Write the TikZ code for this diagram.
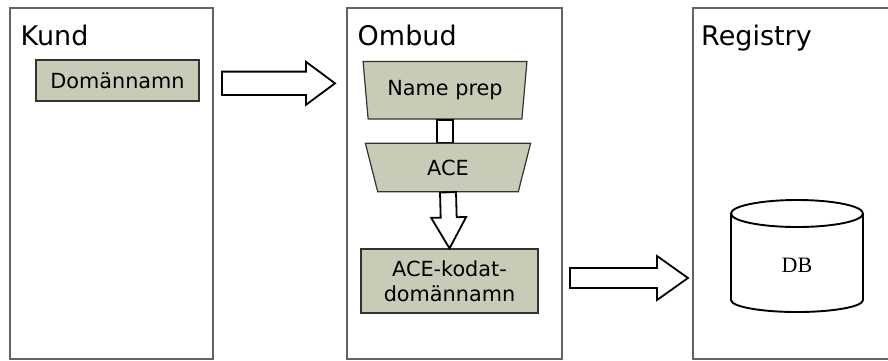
\documentclass[tikz,border=0pt]{standalone}
\usepackage{fontspec}
\setmainfont{DejaVu Sans}
\newfontfamily\dbfont{Liberation Serif}
\usetikzlibrary{calc,shapes.geometric}

\definecolor{boxfill}{RGB}{201,203,183}
\definecolor{panelline}{RGB}{100,100,100}

\tikzset{
  panel/.style={draw=panelline, line width=1.5pt, anchor=north west, inner sep=0pt, minimum height=351},
  title/.style={anchor=base west, inner sep=0pt, font=\fontsize{27}{32}\selectfont},
  box/.style={draw=black!80, fill=boxfill, line width=1.2pt, inner sep=0pt, align=center, font=\fontsize{20.8}{25}\selectfont},
  trap/.style={box, trapezium, shape border rotate=180, trapezium stretches=true},
  blockarrow/.style={draw, fill=white, line width=1.8pt, line join=miter}
}

% tail, tip, shaft half width, head half width, head length
\newcommand{\blockarrow}[5]{%
  \coordinate (ba) at ($(#2)!#5!(#1)$);
  \draw[blockarrow] ($(#1)!#3!90:(#2)$) -- ($(ba)!#3!90:(#2)$) -- ($(ba)!#4!90:(#2)$) -- (#2)
    -- ($(ba)!#4!-90:(#2)$) -- ($(ba)!#3!-90:(#2)$) -- ($(#1)!#3!-90:(#2)$) -- cycle;
}

\begin{document}
\begin{tikzpicture}[x=1pt,y=-1pt]
\useasboundingbox (0,0) rectangle (888,360);

% the three parties
\node[panel, minimum width=203] (kund) at (9,7) {};
\node[panel, minimum width=215] (ombud) at (346,7) {};
\node[panel, minimum width=250] (registry) at (692,7) {};
\node[title] (kundtitle) at (20.5,45.7) {Kund};
\node[title] (ombudtitle) at (357.5,45.7) {Ombud};
\node[title] (registrytitle) at (701,45.7) {Registry};

% boxes
\node[box, minimum width=163, minimum height=41] (dom) at (117.5,80.5) {Domännamn};
\node[trap, minimum width=164, minimum height=57.5, trapezium left angle=79, trapezium right angle=79] (prep) at (445,90.3) {Name prep};
\draw[blockarrow] ($(prep.south)+(-8,0)$) rectangle ($(prep.south |- 0,143)+(8,0)$);
\node[trap, minimum width=166, minimum height=48.4, trapezium left angle=77, trapezium right angle=77] (ace) at (448,167.5) {ACE};
\node[box, minimum width=177, minimum height=64] (kod) at (449.5,281) {ACE-kodat-\\domännamn};

% database
\draw[line width=1.9pt, fill=white] (731,213.5) -- (731,300) arc[start angle=180, end angle=0, x radius=66, y radius=12] -- (863,213.5);
\draw[line width=1.9pt] (797,213.5) ellipse [x radius=66, y radius=13.5];
\node[font=\dbfont\fontsize{22}{26}\selectfont] (db) at (797,265.5) {DB};

% arrows
\coordinate (a1s) at (222,83.3);
\coordinate (a1e) at (335,83.3);
\coordinate (a2s) at (570,278);
\coordinate (a2e) at (688,278);
\blockarrow{a1s}{a1e}{11.7pt}{21.5pt}{29pt}
\blockarrow{ace.south}{kod.north}{8pt}{17.5pt}{31pt}
\blockarrow{a2s}{a2e}{10pt}{22pt}{31pt}
\end{tikzpicture}
\end{document}
